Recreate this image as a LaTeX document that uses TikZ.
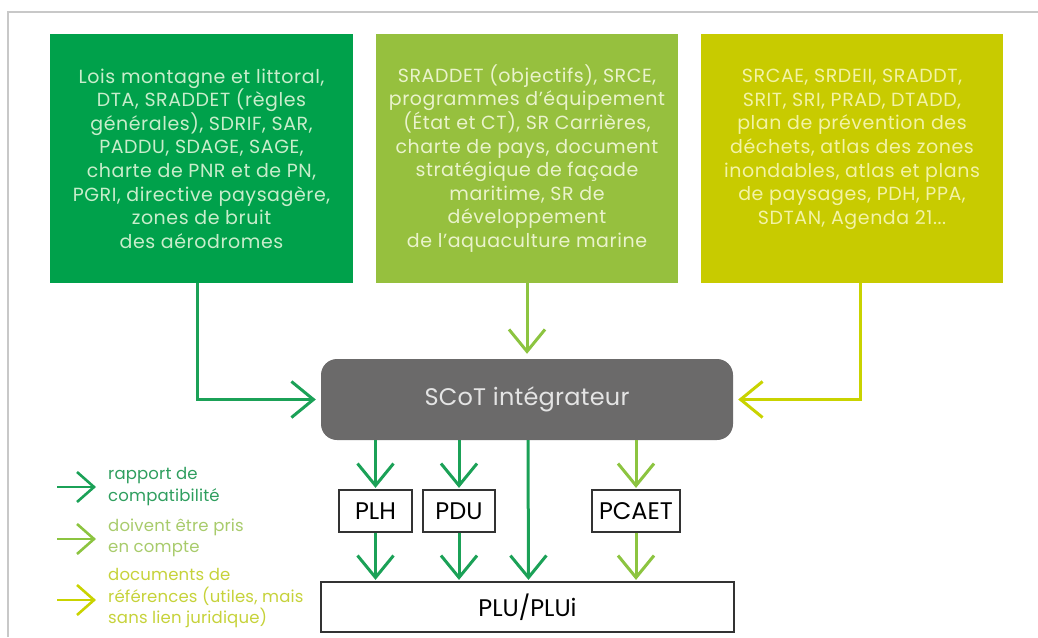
\documentclass[tikz,border=0pt]{standalone}
\usepackage{fontspec}
\setmainfont{Poppins}
\usetikzlibrary{arrows.meta}
\definecolor{cA}{HTML}{00A14B}
\definecolor{cB}{HTML}{96C03E}
\definecolor{cC}{HTML}{C8CB00}
\definecolor{tA}{HTML}{C8EDCB}
\definecolor{tB}{HTML}{EAF3CC}
\definecolor{tC}{HTML}{F3F3A6}
\definecolor{aA}{HTML}{1BA157}
\definecolor{aB}{HTML}{8CC440}
\definecolor{aC}{HTML}{C9D300}
\definecolor{scot}{HTML}{6B6A6A}
\definecolor{scott}{HTML}{E4E4E4}
\definecolor{frame}{HTML}{C8C8C8}
\definecolor{lA}{HTML}{2E9E5E}
\definecolor{lB}{HTML}{A8CB6B}
\definecolor{lC}{HTML}{C6D23A}
\begin{document}
\begin{tikzpicture}[x=1pt,y=-1pt,
  topbox/.style={rectangle, inner sep=0pt, minimum width=303pt, minimum height=249pt, align=center, font=\fontsize{19}{23.6}\selectfont\addfontfeatures{LetterSpace=3}},
  smallbox/.style={rectangle, draw=black!80, line width=1.2pt, fill=white, inner sep=0pt, minimum height=42pt, font=\fontsize{24}{28}\selectfont},
  barb/.style={line width=3pt, -{Straight Barb[length=22pt,width=36pt]}},
  legbarb/.style={line width=2.6pt, -{Straight Barb[length=17pt,width=30pt]}},
  legtext/.style={anchor=west, align=left, inner sep=0pt, font=\fontsize{16.5}{21.5}\selectfont\addfontfeatures{LetterSpace=1}}
]
\useasboundingbox (0,0) rectangle (1038,637);
% frame
\draw[frame, line width=1.5pt] (8,637) -- (8,12) -- (1038,12);

% top boxes
\node[topbox, fill=cA, text=tA] (box1) at (201.5,158.5)
  {Lois montagne et littoral,\\DTA, SRADDET (règles\\générales), SDRIF, SAR,\\PADDU, SDAGE, SAGE,\\charte de PNR et de PN,\\PGRI, directive paysagère,\\zones de bruit\\des aérodromes};
\node[topbox, fill=cB, text=tB, minimum width=302pt] (box2) at (527,158.5)
  {SRADDET (objectifs), SRCE,\\programmes d’équipement\\(État et CT), SR Carrières,\\charte de pays, document\\stratégique de façade\\maritime, SR de\\développement\\de l’aquaculture marine};
\node[topbox, fill=cC, text=tC, minimum width=302pt] (box3) at (852,158.5)
  {SRCAE, SRDEII, SRADDT,\\SRIT, SRI, PRAD, DTADD,\\plan de prévention des\\déchets, atlas des zones\\inondables, atlas et plans\\de paysages, PDH, PPA,\\SDTAN, Agenda 21...\\\mbox{}};

% SCoT
\node[rectangle, rounded corners=16pt, fill=scot, text=scott, minimum width=412pt, minimum height=81pt, inner sep=0pt, font=\fontsize{24}{28}\selectfont\addfontfeatures{LetterSpace=1}] (scot) at (527,399.5) {SCoT intégrateur};

% small boxes
\node[smallbox, minimum width=73pt] (plh) at (375.5,511) {PLH};
\node[smallbox, minimum width=72pt] (pdu) at (459,511) {PDU};
\node[smallbox, minimum width=88pt] (pcaet) at (636,511) {PCAET};
\node[smallbox, minimum width=413pt, minimum height=50pt] (plu) at (527.5,607) {PLU/PLUi};

% connectors to SCoT
\draw[barb, aA, shorten >=5pt] ([xshift=-4pt]box1.south) |- (scot.west);
\draw[barb, aB, shorten >=5pt] (box2.south) -- (scot.north);
\draw[barb, aC, shorten >=5pt] ([xshift=8pt]box3.south) |- (scot.east);

% from SCoT down
\draw[barb, aA, shorten >=1.5pt] (scot.south -| plh.north) -- (plh.north);
\draw[barb, aA, shorten >=1.5pt] (scot.south -| pdu.north) -- (pdu.north);
\draw[barb, aA, shorten >=1.5pt] ([xshift=1pt]scot.south) -- ([xshift=1pt]plu.north);
\draw[barb, aB, shorten >=1.5pt] (scot.south -| pcaet.north) -- (pcaet.north);
\draw[barb, aA, shorten >=1.5pt] (plh.south) -- (plu.north -| plh.south);
\draw[barb, aA, shorten >=1.5pt] (pdu.south) -- (plu.north -| pdu.south);
\draw[barb, aB, shorten >=1.5pt] (pcaet.south) -- (plu.north -| pcaet.south);

% legend
\node[legtext, text=lA] (leg1) at (108,486.5) {rapport de\\compatibilité};
\node[legtext, text=lB] (leg2) at (108,538) {doivent être pris\\en compte};
\node[legtext, text=lC] (leg3) at (108,598.5) {documents de\\références (utiles, mais\\sans lien juridique)};
\coordinate (l1s) at (57,487);
\coordinate (l2s) at (57,539);
\coordinate (l3s) at (57,600);
\draw[legbarb, aA, shorten >=12pt] (l1s) -- (l1s -| leg1.west);
\draw[legbarb, aB, shorten >=12pt] (l2s) -- (l2s -| leg2.west);
\draw[legbarb, aC, shorten >=12pt] (l3s) -- (l3s -| leg3.west);
\end{tikzpicture}
\end{document}
